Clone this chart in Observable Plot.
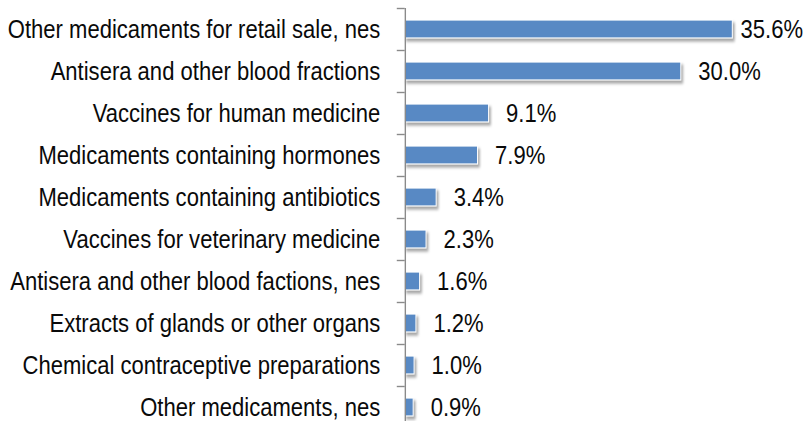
<!DOCTYPE html>
<html>
<head>
<meta charset="utf-8">
<script src="https://cdn.jsdelivr.net/npm/d3@7"></script>
<script src="https://cdn.jsdelivr.net/npm/@observablehq/plot@0.6"></script>
<style>
  html, body { margin: 0; padding: 0; background: white; }
  #chart { width: 806px; height: 421px; overflow: hidden; }
</style>
</head>
<body>
<div id="chart"></div>
<script>
const categories = [
  "Other medicaments for retail sale, nes",
  "Antisera and other blood fractions",
  "Vaccines for human medicine",
  "Medicaments containing hormones",
  "Medicaments containing antibiotics",
  "Vaccines for veterinary medicine",
  "Antisera and other blood factions, nes",
  "Extracts of glands or other organs",
  "Chemical contraceptive preparations",
  "Other medicaments, nes"
];
const values = [35.6, 30.0, 9.1, 7.9, 3.4, 2.3, 1.6, 1.2, 1.0, 0.9];
const valueLabels = ["35.6%", "30.0%", "9.1%", "7.9%", "3.4%", "2.3%", "1.6%", "1.2%", "1.0%", "0.9%"];

const data = categories.map((name, i) => ({name, value: values[i], label: valueLabels[i]}));

const W = 932, H = 421; // drawn in a wider space, then condensed horizontally to 806px
const OUT_W = 806;
const font = "'Liberation Sans', Arial, Helvetica, sans-serif";

const plot = Plot.plot({
  width: W,
  height: H,
  marginTop: 8,
  marginBottom: 0,
  marginLeft: 468,
  marginRight: 38,
  style: {fontFamily: font, fontSize: "25.5px", color: "#0a0a0a", background: "white", overflow: "visible"},
  x: {domain: [0, 40], range: [468.2, 893.6], axis: null},
  y: {domain: categories, range: [8, 428], padding: 0, axis: null},
  marks: [
    Plot.barX(data, {x: "value", y: "name", fill: "#5889C4", stroke: "white", strokeWidth: 1.2, insetTop: 12, insetBottom: 12}),
    Plot.ruleX([0], {stroke: "#8a8a8a", strokeWidth: 1.6}),
    Plot.axisY({tickSize: 9.2, dy: -21, tickFormat: () => "", label: null, stroke: "#8a8a8a", strokeWidth: 1.4}),
    Plot.axisY({tickSize: 0, tickPadding: 28.8, label: null, fontSize: 25.5, fill: "#0a0a0a"}),
    Plot.text(data, {x: "value", y: "name", text: "label", textAnchor: "start", dx: 19.7, fontSize: 25.5, fill: "#0a0a0a"})
  ]
});

plot.setAttribute("width", OUT_W);
plot.setAttribute("height", H);
plot.setAttribute("preserveAspectRatio", "none");
plot.style.width = OUT_W + "px";
plot.style.height = H + "px";
plot.style.maxWidth = "none";
document.getElementById("chart").appendChild(plot);

const barGroup = plot.querySelector('g[aria-label="bar"]');
if (barGroup) barGroup.style.filter = "drop-shadow(2px 3px 1.5px rgba(0,0,0,0.35))";

// keep value labels inside the frame (Excel-style nudge)
const svgRect = plot.getBoundingClientRect();
const k = OUT_W / W;
plot.querySelectorAll('g[aria-label="text"] text').forEach(t => {
  const r = t.getBoundingClientRect();
  const over = r.right - (svgRect.left + OUT_W - 3);
  if (over > 0) {
    const tr = t.getAttribute("transform") || "";
    t.setAttribute("transform", tr + ` translate(${-over / k},0)`);
  }
});
</script>
</body>
</html>
